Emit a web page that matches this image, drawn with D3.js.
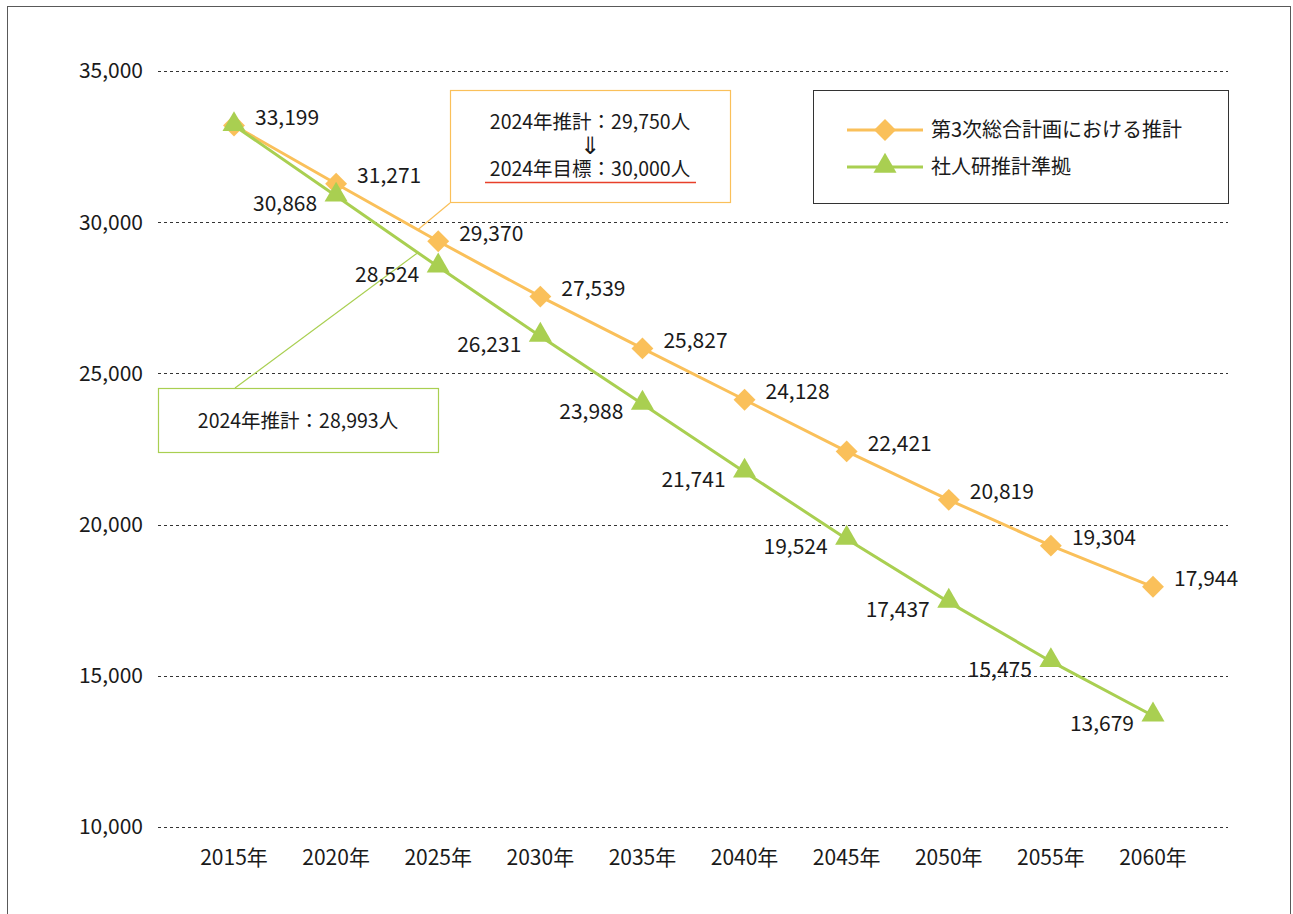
<!DOCTYPE html>
<html>
<head>
<meta charset="utf-8">
<script src="https://cdn.jsdelivr.net/npm/d3@7"></script>
<style>
  body { margin: 0; background: #fff; }
  svg text { font-family: 'Noto Sans CJK JP', 'Noto Sans', sans-serif; fill: #1a1a1a; }
</style>
</head>
<body>
<div id="chart"></div>
<script>
const years = ['2015年', '2020年', '2025年', '2030年', '2035年', '2040年', '2045年', '2050年', '2055年', '2060年']
const planValues = [33199, 31271, 29370, 27539, 25827, 24128, 22421, 20819, 19304, 17944]
const ipssValues = [33199, 30868, 28524, 26231, 23988, 21741, 19524, 17437, 15475, 13679]
const yTicks = [10000, 15000, 20000, 25000, 30000, 35000]
const seriesNames = ['第3次総合計画における推計', '社人研推計準拠']
const calloutPlan = ['2024年推計：29,750人', '⇓', '2024年目標：30,000人']
const calloutIpss = '2024年推計：28,993人'
const plan2024 = 29750
const ipss2024 = 28993

const width = 1293
const height = 914
const orange = '#fac05a'
const green = '#a9cf51'

const svg = d3.select('#chart').append('svg')
  .attr('width', width).attr('height', height)

// outer frame
svg.append('rect')
  .attr('x', 7.5).attr('y', 6.5).attr('width', 1283).attr('height', 930)
  .attr('fill', 'none').attr('stroke', '#595959').attr('stroke-width', 1)

const xScale = d3.scalePoint().domain(years).range([234, 1153])
const yScale = d3.scaleLinear().domain([10000, 35000]).range([827, 71])
const xAt = i => 234 + i * (1153 - 234) / 9 // fractional year index

// grid
svg.append('g').selectAll('line').data(yTicks).join('line')
  .attr('x1', 158).attr('x2', 1228)
  .attr('y1', d => Math.round(yScale(d)) + 0.5).attr('y2', d => Math.round(yScale(d)) + 0.5)
  .attr('stroke', '#333').attr('stroke-width', 1).attr('stroke-dasharray', '3,3')

svg.append('g').selectAll('text').data(yTicks).join('text')
  .attr('x', 143).attr('y', d => yScale(d))
  .attr('dy', '0.35em').attr('text-anchor', 'end')
  .attr('font-size', 21)
  .text(d => d3.format(',')(d))

svg.append('g').selectAll('text').data(years).join('text')
  .attr('x', d => xScale(d)).attr('y', 858)
  .attr('dy', '0.35em').attr('text-anchor', 'middle')
  .attr('font-size', 21)
  .text(d => d)

// callout connectors
svg.append('line')
  .attr('x1', 450).attr('y1', 203)
  .attr('x2', xAt(1.8)).attr('y2', yScale(plan2024))
  .attr('stroke', orange).attr('stroke-width', 1.2)
svg.append('line')
  .attr('x1', 235).attr('y1', 388)
  .attr('x2', xAt(1.8)).attr('y2', yScale(ipss2024))
  .attr('stroke', green).attr('stroke-width', 1.2)

const line = d3.line().x((d, i) => xScale(years[i])).y(d => yScale(d))

svg.append('path').datum(planValues).attr('d', line)
  .attr('fill', 'none').attr('stroke', orange).attr('stroke-width', 3)
svg.append('path').datum(ipssValues).attr('d', line)
  .attr('fill', 'none').attr('stroke', green).attr('stroke-width', 3)

const diamond = d3.symbol().type(d3.symbolSquare).size(240)
svg.append('g').selectAll('path').data(planValues).join('path')
  .attr('d', diamond)
  .attr('transform', (d, i) => `translate(${xScale(years[i])},${yScale(d)}) rotate(45)`)
  .attr('fill', orange)

const tri = d3.symbol().type(d3.symbolTriangle).size(230)
svg.append('g').selectAll('path').data(ipssValues).join('path')
  .attr('d', tri)
  .attr('transform', (d, i) => `translate(${xScale(years[i])},${yScale(d) - 1})`)
  .attr('fill', green)

// data labels
svg.append('g').selectAll('text').data(planValues).join('text')
  .attr('x', (d, i) => xScale(years[i]) + 21)
  .attr('y', d => yScale(d) - 8)
  .attr('dy', '0.35em')
  .attr('font-size', 21)
  .text(d => d3.format(',')(d))

svg.append('g').selectAll('text').data(ipssValues.slice(1)).join('text')
  .attr('x', (d, i) => xScale(years[i + 1]) - 19)
  .attr('y', d => yScale(d) + 8)
  .attr('dy', '0.35em').attr('text-anchor', 'end')
  .attr('font-size', 21)
  .text(d => d3.format(',')(d))

// orange callout box
svg.append('rect')
  .attr('x', 450.5).attr('y', 90.5).attr('width', 280).attr('height', 112)
  .attr('fill', '#fff').attr('stroke', orange).attr('stroke-width', 1.2)
svg.append('g').selectAll('text').data(calloutPlan).join('text')
  .attr('x', 590).attr('y', (d, i) => [122, 146, 169][i])
  .attr('dy', '0.35em').attr('text-anchor', 'middle')
  .attr('font-size', (d, i) => i === 1 ? 24 : 19.5)
  .style('font-family', (d, i) => i === 1 ? "'DejaVu Sans', sans-serif" : null)
  .text(d => d)
svg.append('line')
  .attr('x1', 485).attr('x2', 696).attr('y1', 182.5).attr('y2', 182.5)
  .attr('stroke', '#e8402a').attr('stroke-width', 1.5)

// green callout box
svg.append('rect')
  .attr('x', 158.5).attr('y', 388.5).attr('width', 280).attr('height', 64)
  .attr('fill', '#fff').attr('stroke', green).attr('stroke-width', 1.2)
svg.append('text')
  .attr('x', 298).attr('y', 421).attr('dy', '0.35em').attr('text-anchor', 'middle')
  .attr('font-size', 19.5)
  .text(calloutIpss)

// legend
const legend = svg.append('g')
legend.append('rect')
  .attr('x', 813.5).attr('y', 90.5).attr('width', 415).attr('height', 113)
  .attr('fill', '#fff').attr('stroke', '#333').attr('stroke-width', 1)
const legendRows = [
  { name: seriesNames[0], color: orange, sym: diamond, rot: 45, y: 130 },
  { name: seriesNames[1], color: green, sym: tri, rot: 0, y: 167 },
]
legendRows.forEach(r => {
  legend.append('line').attr('x1', 847).attr('x2', 923).attr('y1', r.y).attr('y2', r.y)
    .attr('stroke', r.color).attr('stroke-width', 3)
  legend.append('path').attr('d', r.sym)
    .attr('transform', `translate(885,${r.y - (r.rot ? 0 : 1)}) rotate(${r.rot})`)
    .attr('fill', r.color)
  legend.append('text').attr('x', 931).attr('y', r.y).attr('dy', '0.35em')
    .attr('font-size', 20).text(r.name)
})
</script>
</body>
</html>
